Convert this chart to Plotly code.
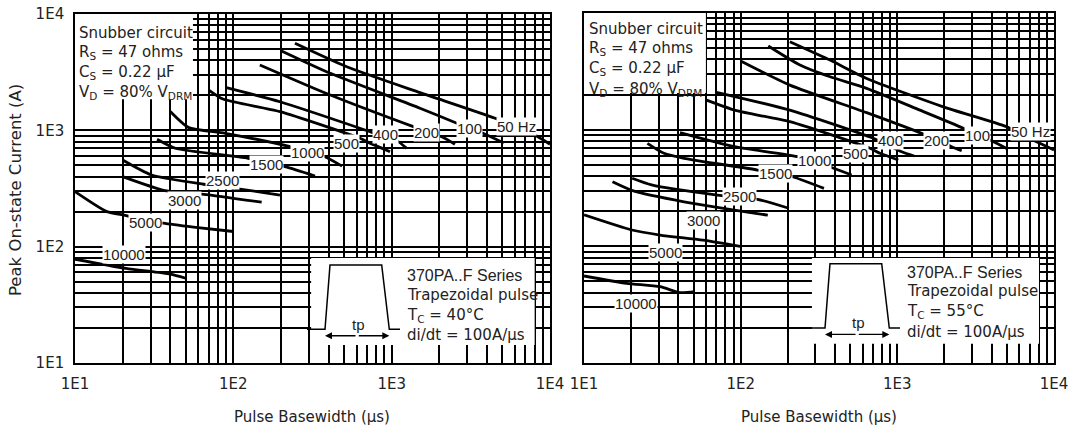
import math
import plotly.graph_objects as go

W, H = 1074, 433

# ---------------- data: left panel, Tc = 40 °C ----------------
labels = ["50 Hz", "100", "200", "400", "500", "1000", "1500", "2500", "3000", "5000", "10000"]

L_50_x = [245, 520, 1510, 4500, 8000, 10000]
L_50_y = [5600, 3520, 2110, 1270, 910, 760]
L_100_x = [200, 410, 1510, 2580, 3800, 5100]
L_100_y = [4840, 3090, 1550, 1150, 940, 780]
L_200_x = [147, 410, 1370, 2070, 2510]
L_200_y = [3650, 2010, 1075, 880, 760]
L_400_x = [89, 197, 730, 1100, 1245]
L_400_y = [2340, 1760, 973, 800, 700]
L_500_x = [70, 86, 197, 631, 696, 976]
L_500_y = [2220, 1860, 1450, 855, 800, 655]
L_1000_x = [40, 52, 89, 228, 379, 486]
L_1000_y = [1450, 1060, 943, 723, 593, 492]
L_1500_x = [33, 43, 124, 212, 328]
L_1500_y = [838, 701, 575, 487, 405]
L_2500_x = [20, 30.5, 65, 110, 197]
L_2500_y = [556, 413, 344, 313, 278]
L_3000_x = [20, 37, 65, 151]
L_3000_y = [400, 303, 282, 241]
L_5000_x = [10, 15.9, 20.7, 36, 56, 100]
L_5000_y = [297, 200, 186, 159, 147, 135]
L_10000_x = [10, 21, 40, 50]
L_10000_y = [78, 65, 58, 53.5]

L_lbl_x = [6100, 3120, 1650, 910, 522, 296, 161, 85, 49.5, 28, 20.4]
L_lbl_y = [1070, 1047, 950, 912, 778, 651, 504, 367, 247, 160, 85]

# ---------------- data: right panel, Tc = 55 °C ----------------
R_50_x = [206, 372, 637, 1965, 4990, 7350, 10000]
R_50_y = [5680, 3950, 2750, 1570, 1060, 815, 670]
R_100_x = [150, 239, 372, 637, 1395, 2640, 4080, 4990]
R_100_y = [5210, 3580, 2840, 2260, 1470, 1030, 790, 690]
R_200_x = [100, 206, 637, 1430, 2220, 2575]
R_200_y = [3880, 2410, 1400, 930, 714, 660]
R_400_x = [70, 206, 703, 1066, 1280]
R_400_y = [2090, 1470, 843, 647, 595]
R_500_x = [60, 94, 206, 669, 775, 1014]
R_500_y = [1800, 1454, 1170, 692, 627, 550]
R_1000_x = [41, 91, 230, 388, 511]
R_1000_y = [942, 714, 587, 469, 409]
R_1500_x = [25.4, 32.4, 43.5, 128, 219, 340]
R_1500_y = [764, 627, 568, 451, 391, 314]
R_2500_x = [20.3, 27, 71, 128, 203]
R_2500_y = [383, 336, 275, 253, 212]
R_3000_x = [15.2, 20.9, 43.5, 149]
R_3000_y = [358, 297, 241, 185]
R_5000_x = [10, 20.2, 30.6, 57.5, 101.5]
R_5000_y = [186, 138, 125, 113, 99.3]
R_10000_x = [10, 18.7, 30.6, 41, 51]
R_10000_y = [55.7, 48.2, 45.1, 40.1, 40.8]

R_lbl_x = [7130, 3250, 1783, 904, 541, 298, 166, 97.6, 58.3, 32.9, 21.5]
R_lbl_y = [960, 900, 815, 815, 631, 539, 425, 265, 166, 89.4, 32.5]

decade_labels = ["1E1", "1E2", "1E3", "1E4"]

left_curves = [(L_50_x, L_50_y), (L_100_x, L_100_y), (L_200_x, L_200_y), (L_400_x, L_400_y),
               (L_500_x, L_500_y), (L_1000_x, L_1000_y), (L_1500_x, L_1500_y), (L_2500_x, L_2500_y),
               (L_3000_x, L_3000_y), (L_5000_x, L_5000_y), (L_10000_x, L_10000_y)]
right_curves = [(R_50_x, R_50_y), (R_100_x, R_100_y), (R_200_x, R_200_y), (R_400_x, R_400_y),
                (R_500_x, R_500_y), (R_1000_x, R_1000_y), (R_1500_x, R_1500_y), (R_2500_x, R_2500_y),
                (R_3000_x, R_3000_y), (R_5000_x, R_5000_y), (R_10000_x, R_10000_y)]

# grid ticks at 1..9 x 10^n
grid_vals = []
grid_text = []
for e in range(1, 4):
    for m in range(1, 10):
        grid_vals.append(m * 10 ** e)
        grid_text.append(decade_labels[e - 1] if m == 1 else "")
grid_vals.append(10 ** 4)
grid_text.append(decade_labels[3])

FONT = "DejaVu Sans, sans-serif"
LBLFONT = "Liberation Sans, Arial, sans-serif"
TXT = "#222"

fig = go.Figure()
for xs, ys in left_curves:
    fig.add_trace(go.Scatter(x=xs, y=ys, mode="lines", xaxis="x", yaxis="y",
                             line=dict(color="black", width=2.8, shape="spline", smoothing=0.6),
                             showlegend=False, hoverinfo="skip"))
for xs, ys in right_curves:
    fig.add_trace(go.Scatter(x=xs, y=ys, mode="lines", xaxis="x2", yaxis="y2",
                             line=dict(color="black", width=2.8, shape="spline", smoothing=0.6),
                             showlegend=False, hoverinfo="skip"))

def axis_common(show_labels=True):
    return dict(type="log", range=[1, 4], tickmode="array", tickvals=grid_vals, ticktext=grid_text,
                showgrid=True, gridcolor="black", gridwidth=1.5, zeroline=False,
                showline=True, linecolor="black", linewidth=1.6, mirror=True,
                ticks="outside", ticklen=6, tickcolor="rgba(0,0,0,0)", automargin=False,
                showticklabels=show_labels, tickfont=dict(family=FONT, size=15, color=TXT))

fig.update_layout(
    width=W, height=H, margin=dict(l=0, r=0, t=0, b=0, pad=0, autoexpand=False),
    paper_bgcolor="white", plot_bgcolor="white", showlegend=False,
    xaxis=dict(domain=[75 / W, 550 / W], anchor="y", **axis_common()),
    yaxis=dict(domain=[1 - 363 / H, 1 - 14 / H], anchor="x", **axis_common()),
    xaxis2=dict(domain=[584 / W, 1054 / W], anchor="y2", **axis_common()),
    yaxis2=dict(domain=[1 - 363 / H, 1 - 13 / H], anchor="x2", **axis_common(False)),
)

shapes = []
def white_box(xr, yr, x0, x1, y0, y1):
    shapes.append(dict(type="rect", xref=xr, yref=yr, x0=x0, x1=x1, y0=y0, y1=y1,
                       fillcolor="white", line=dict(width=0), layer="between"))

# snubber text boxes and inset boxes (hide the grid behind them)
white_box("x", "y", 10, 55.6, 1850, 10000)
white_box("x2", "y2", 10, 60, 2060, 10000)
white_box("x", "y", 310, 8000, 14.3, 80)
white_box("x2", "y2", 285, 8020, 14.6, 79.4)

def P(px, py):
    return f"{px / W:.5f},{1 - py / H:.5f}"

anns = []
def paper_text(px, py, text, size=15, xanchor="left", family=FONT, angle=0):
    anns.append(dict(xref="paper", yref="paper", x=px / W, y=1 - py / H, text=text, showarrow=False,
                     xanchor=xanchor, yanchor="middle", textangle=angle, borderpad=0,
                     font=dict(family=family, size=size, color=TXT)))

# trapezoid pulse sketches
for ox, oy in [(0, 0), (500, -1.3)]:
    path = ("M " + P(307 + ox, 329.3 + oy) + " L " + P(325 + ox, 329.3 + oy) + " L " + P(330 + ox, 265 + oy)
            + " L " + P(381.7 + ox, 265 + oy) + " L " + P(389.3 + ox, 329.3 + oy) + " L " + P(400 + ox, 329.3 + oy))
    shapes.append(dict(type="path", xref="paper", yref="paper", path=path,
                       line=dict(color="black", width=1.5), layer="above"))
    ya = 1 - (335.7 + oy) / H
    anns.append(dict(xref="paper", yref="paper", x=(325 + ox) / W, y=ya, ax=32, ay=0, text="",
                     showarrow=True, arrowhead=2, arrowsize=1, arrowwidth=1.4, arrowcolor="black"))
    anns.append(dict(xref="paper", yref="paper", x=(389.3 + ox) / W, y=ya, ax=-32, ay=0, text="",
                     showarrow=True, arrowhead=2, arrowsize=1, arrowwidth=1.4, arrowcolor="black"))
    paper_text(358 + ox, 324 + oy, "tp", size=15, xanchor="center", family=LBLFONT)

# inset texts
paper_text(406, 275, "370PA..F Series", size=16, family=LBLFONT)
paper_text(406, 295, "Trapezoidal pulse")
paper_text(406, 315, "T<sub>C</sub> = 40°C")
paper_text(406, 335, "di/dt = 100A/µs")
paper_text(906, 272, "370PA..F Series", size=16, family=LBLFONT)
paper_text(906, 291, "Trapezoidal pulse")
paper_text(906, 311, "T<sub>C</sub> = 55°C")
paper_text(906, 332, "di/dt = 100A/µs")

# snubber texts
for ox, oy in [(78, 0), (588, -4)]:
    paper_text(ox, 33 + oy, "Snubber circuit")
    paper_text(ox, 53 + oy, "R<sub>S</sub> = 47 ohms")
    paper_text(ox, 73 + oy, "C<sub>S</sub> = 0.22 µF")
    paper_text(ox, 93 + oy, "V<sub>D</sub> = 80% V<sub>DRM</sub>")

# axis titles
paper_text(15, 190, "Peak On-state Current (A)", size=16.5, xanchor="center", angle=-90)
paper_text(312, 417, "Pulse Basewidth (µs)", size=15, xanchor="center")
paper_text(819, 417, "Pulse Basewidth (µs)", size=15, xanchor="center")

# curve labels (annotation positions on log axes use log10 values)
for lab, lx, ly in zip(labels, L_lbl_x, L_lbl_y):
    anns.append(dict(xref="x", yref="y", x=math.log10(lx), y=math.log10(ly), text=lab, showarrow=False,
                     bgcolor="white", borderpad=0, font=dict(family=LBLFONT, size=15, color=TXT)))
for lab, lx, ly in zip(labels, R_lbl_x, R_lbl_y):
    anns.append(dict(xref="x2", yref="y2", x=math.log10(lx), y=math.log10(ly), text=lab, showarrow=False,
                     bgcolor="white", borderpad=0, font=dict(family=LBLFONT, size=15, color=TXT)))

fig.update_layout(shapes=shapes, annotations=anns)
fig.write_html("out.html")
